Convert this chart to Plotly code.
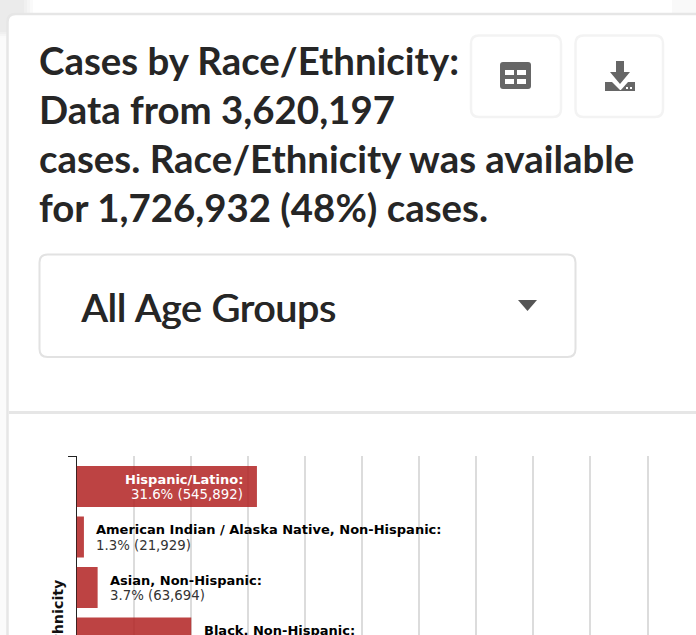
import plotly.graph_objects as go

W, H = 696, 635

# ---- data ----
groups = ["Hispanic/Latino", "American Indian / Alaska Native, Non-Hispanic",
          "Asian, Non-Hispanic", "Black, Non-Hispanic"]
percent = [31.6, 1.3, 3.7, 20.1]
counts = ["545,892", "21,929", "63,694", None]
title_lines = ["Cases by Race/Ethnicity:", "Data from 3,620,197",
               "cases. Race/Ethnicity was available", "for 1,726,932 (48%) cases."]
dropdown_label = "All Age Groups"
axis_title = "Race/Ethnicity"
x_ticks = [0, 10, 20, 30, 40, 50, 60, 70, 80, 90, 100]

def px(x): return x / W
def py(y): return 1 - y / H

def rrect(x0, y0, x1, y1, r, line, lw, fill="rgba(0,0,0,0)"):
    xa, xb, ya, yb = px(x0), px(x1), py(y0), py(y1)
    rx, ry = r / W, r / H
    p = (f"M{xa+rx},{ya} L{xb-rx},{ya} Q{xb},{ya} {xb},{ya-ry} L{xb},{yb+ry} "
         f"Q{xb},{yb} {xb-rx},{yb} L{xa+rx},{yb} Q{xa},{yb} {xa},{yb+ry} "
         f"L{xa},{ya-ry} Q{xa},{ya} {xa+rx},{ya} Z")
    return dict(type="path", xref="paper", yref="paper", path=p,
                line=dict(color=line, width=lw), fillcolor=fill, layer="below")

def poly(points, fill):
    p = "M" + " L".join(f"{px(a)},{py(b)}" for a, b in points) + " Z"
    return dict(type="path", xref="paper", yref="paper", path=p,
                line=dict(width=0), fillcolor=fill, layer="above")

def rect(x0, y0, x1, y1, fill, layer="above"):
    return dict(type="rect", xref="paper", yref="paper", x0=px(x0), x1=px(x1),
                y0=py(y0), y1=py(y1), line=dict(width=0), fillcolor=fill, layer=layer)

ICON = "#666666"
GLOW = "rgba(0,0,0,0.018)"
shapes = [
    # soft glow behind the card's top-left corner
    rect(0, 0, 33, 38, GLOW, "below"), rect(0, 0, 30, 36, GLOW, "below"),
    rect(0, 0, 27, 34, GLOW, "below"), rect(0, 0, 24, 32, GLOW, "below"),
    rect(0, 38, 8, 635, "#fbfbfb", "below"),
    rect(672, 0, 696, 13, "#f9f9f9", "below"),
    rrect(7.5, 14, 720, 700, 8, "#e6e6e6", 2.5, "#ffffff"),
    rect(9, 411, 696, 414, "#e6e6e6", "below"),
    rrect(39.5, 254.5, 575.5, 357, 8, "#e2e2e2", 2),
    rrect(471, 35.5, 561, 117, 8, "#f3f3f3", 2.5),
    rrect(575.5, 35.5, 663, 117, 8, "#f3f3f3", 2.5),
    poly([(518, 300), (537, 300), (527.5, 311)], "#555555"),
    # table icon
    rrect(500, 62, 531, 89, 3, ICON, 0, ICON),
    rect(505, 70, 514, 75, "#ffffff"), rect(517, 70, 526, 75, "#ffffff"),
    rect(505, 79, 514, 84, "#ffffff"), rect(517, 79, 526, 84, "#ffffff"),
    # download icon
    poly([(616, 61), (624, 61), (624, 72), (630, 72), (620, 84), (610, 72), (616, 72)], ICON),
    poly([(605, 82), (612, 82), (620, 90), (635, 90), (635, 91), (605, 91)], ICON),
    poly([(628, 82), (635, 82), (635, 91), (620, 91)], ICON),
    rect(626, 87, 628, 89, "#ffffff"), rect(630, 87, 632, 89, "#ffffff"),
    # outer tick at the top of the y axis
    dict(type="line", xref="paper", yref="paper", x0=px(68), x1=px(76.5),
         y0=py(456.5), y1=py(456.5), line=dict(color="#222222", width=1)),
]

annotations = []
def text(x, y, s, size, color="#262626", family="Lato", anchor="left", **font_kw):
    annotations.append(dict(xref="paper", yref="paper", x=px(x), y=py(y), text=s,
                            showarrow=False, xanchor=anchor, yanchor="middle",
                            font=dict(size=size, color=color, family=family, **font_kw)))

for line, yy in zip(title_lines, [60, 109, 158, 207]):
    text(37, yy, f"<b>{line}</b>", 38.4)
text(79, 307, dropdown_label, 39, shadow="1px 0 0 #262626")

annotations.append(dict(xref="paper", yref="paper", x=px(58), y=py(577),
                        text=f"<b>{axis_title}</b>", textangle=-90, showarrow=False,
                        xanchor="center", yanchor="top",
                        font=dict(size=14.3, color="#111111", family="DejaVu Sans")))

LABEL = "DejaVu Sans"
# the last row's centre lies past the window's lower edge, so labels are placed
# by row on the page rather than on the category axis
for i, (g, v, c) in enumerate(zip(groups, percent, counts)):
    inside = v > 30
    common = dict(xref="x", yref="paper", x=v, y=py(486.5 + 50.5 * i), showarrow=False,
                  yanchor="middle", xanchor="right" if inside else "left",
                  xshift=-11.5 if inside else 10.5)
    annotations.append(dict(common, text=f"<b>{g}:</b>", yshift=7.5,
                            font=dict(size=13, family=LABEL,
                                      color="#ffffff" if inside else "#000000")))
    if c:
        annotations.append(dict(common, text=f"{v}% ({c})", yshift=-8,
                                font=dict(size=13.3, family=LABEL,
                                          color="#ffffff" if inside else "#333333")))

fig = go.Figure(go.Bar(
    y=groups, x=percent, orientation="h",
    marker=dict(color="#b22222", opacity=0.85, line=dict(width=0)),
    hoverinfo="skip",
))
fig.update_layout(
    width=W, height=H, margin=dict(l=0, r=0, t=0, b=0),
    paper_bgcolor="#ffffff", plot_bgcolor="rgba(0,0,0,0)",
    showlegend=False, bargap=0.19, shapes=shapes, annotations=annotations,
    xaxis=dict(domain=[px(76.5), 1], range=[0, (W - 76.5) / 5.71], tickvals=x_ticks,
               showticklabels=False, ticks="", showgrid=True, gridcolor="#dcdcdc",
               gridwidth=1.5, zeroline=False, showline=False, fixedrange=True),
    yaxis=dict(domain=[0, py(456)], type="category", categoryorder="array",
               categoryarray=groups, range=[2.94, -0.604], showticklabels=False,
               ticks="", showgrid=False, zeroline=False, showline=True,
               linecolor="#222222", linewidth=1, layer="below traces", fixedrange=True),
)
fig.write_html("out.html", config=dict(displayModeBar=False),
               post_script="document.body.style.margin='0';document.documentElement.style.overflow='hidden';")
